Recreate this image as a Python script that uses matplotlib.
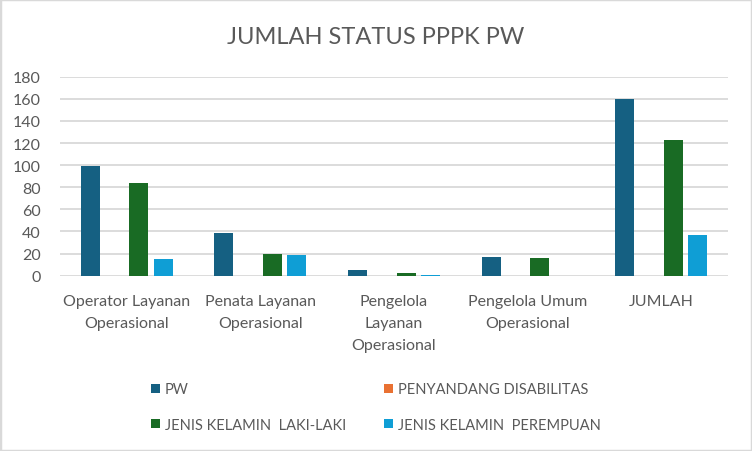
import matplotlib
matplotlib.use("Agg")
import matplotlib.pyplot as plt
import numpy as np
from matplotlib.patches import Patch, Rectangle

plt.rcParams['font.family'] = ['Lato', 'DejaVu Sans']

categories = ["Operator Layanan\nOperasional", "Penata Layanan\nOperasional",
              "Pengelola\nLayanan\nOperasional", "Pengelola Umum\nOperasional", "JUMLAH"]
series_names = ["PW", "PENYANDANG DISABILITAS", "JENIS KELAMIN  LAKI-LAKI", "JENIS KELAMIN  PEREMPUAN"]
pw = [99, 39, 5, 17, 160]
disabilitas = [0, 0, 0, 0, 0]
laki = [84, 20, 2, 16, 123]
perempuan = [15, 19, 1, 0, 37]
yticks = [0, 20, 40, 60, 80, 100, 120, 140, 160, 180]
colors = ["#156082", "#E97132", "#196B24", "#0F9ED5"]
grey = "#595959"

fig = plt.figure(figsize=(7.52, 4.52), dpi=100)
fig.patches.append(Rectangle((0, 0), 1, 1, transform=fig.transFigure, fill=False,
                             edgecolor="#d9d9d9", linewidth=2.5))
ax = fig.add_axes([60/752, 1-276.7/452, 668/752, 199/452])

x = np.arange(len(categories))
pitch = 0.182
width = 0.142
data = [pw, disabilitas, laki, perempuan]
for i, (vals, c) in enumerate(zip(data, colors)):
    ax.bar(x + (i - 1.5) * pitch, vals, width=width, color=c, zorder=3)

ax.set_xlim(-0.5, len(categories) - 0.5)
ax.set_ylim(0, 180)
ax.set_yticks(yticks)
ax.yaxis.grid(True, color="#d9d9d9", linewidth=1.3, zorder=0)
ax.set_axisbelow(True)
for s in ax.spines.values():
    s.set_visible(False)
ax.tick_params(axis='both', length=0, colors=grey, labelsize=11.5)
ax.tick_params(axis='y', pad=14)
ax.tick_params(axis='x', pad=13)
ax.set_xticks(x)
ax.set_xticklabels(categories, linespacing=1.75)

fig.text(0.5, 1-37/452, "JUMLAH STATUS PPPK PW", ha='center', va='center',
         fontsize=17, color=grey)

order = [0, 2, 1, 3]
handles = [Patch(facecolor=colors[i], edgecolor='none') for i in order]
labels = [series_names[i] for i in order]
leg = fig.legend(handles, labels, ncol=2, loc='center',
                 bbox_to_anchor=(0.5, 1-408/452), frameon=False,
                 fontsize=10.5, handlelength=0.6, handleheight=0.6,
                 handletextpad=0.35, columnspacing=2.6, labelspacing=1.45)
for t in leg.get_texts():
    t.set_color(grey)

fig.savefig("out.png", dpi=100)
